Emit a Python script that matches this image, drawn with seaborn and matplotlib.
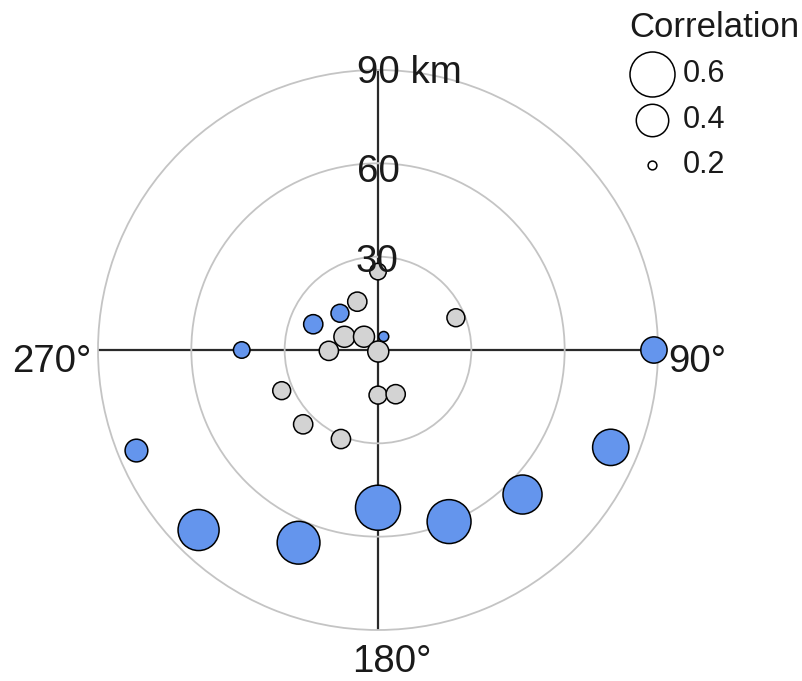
import numpy as np
import pandas as pd
import matplotlib
matplotlib.use("Agg")
import matplotlib.pyplot as plt
import seaborn as sns

# Station offsets: bearing (degrees clockwise from north), distance (km),
# correlation coefficient and whether the link is significant.
bearing_deg = [0, 336.8, 291.5, 313.5, 269, 170, 67.5, 247.1, 180, 158.2, 225.2, 202.6,
               314, 291.7, 23, 270, 247.4, 224.9, 202.4, 180, 157.5, 135, 112.7, 90]
distance_km = [25.2, 16.9, 11.6, 6.2, 15.8, 0.5, 27.1, 33.6, 14.5, 15.3, 33.9, 31.0,
               17.0, 22.4, 4.7, 43.8, 84.1, 81.7, 67.0, 50.7, 59.7, 65.7, 81.1, 88.7]
correlation = [0.24, 0.26, 0.275, 0.275, 0.26, 0.275, 0.25, 0.25, 0.25, 0.26, 0.26, 0.26,
               0.25, 0.26, 0.205, 0.24, 0.29, 0.53, 0.56, 0.657, 0.58, 0.497, 0.455, 0.326]
group = ["ns"] * 12 + ["sig"] * 12

ring_values = [30, 60, 90]
legend_values = [0.6, 0.4, 0.2]

palette = {"ns": "#d3d3d3", "sig": "#6495ed"}
size_range = (40, 1050)
size_norm = (0.2, 0.6)

df = pd.DataFrame({
    "theta": np.deg2rad(bearing_deg),
    "dist": distance_km,
    "corr": correlation,
    "group": group,
})

sns.set_style("white")
plt.rcParams["font.family"] = ["Liberation Sans", "DejaVu Sans"]
text_color = "#1a1a1a"
ring_color = "#c4c4c4"

fig = plt.figure(figsize=(8.03, 6.81), dpi=100)
ax = fig.add_axes([0.12204, 0.07489, 0.69738, 0.82232], projection="polar")
ax.set_theta_zero_location("N")
ax.set_theta_direction(-1)
ax.set_ylim(0, ring_values[-1])

sns.scatterplot(data=df, x="theta", y="dist", hue="group", palette=palette,
                size="corr", sizes=size_range, size_norm=size_norm,
                edgecolor="black", linewidth=1.1, legend=False,
                ax=ax, zorder=3, clip_on=False, alpha=1)

# grid: dark cross through the centre, light rings every 30 km
ax.set_xticks(np.deg2rad([0, 90, 180, 270]))
ax.set_yticks(ring_values[:-1])
ax.xaxis.grid(True, color="#2a2a2a", linewidth=1.6)
ax.yaxis.grid(True, color=ring_color, linewidth=1.3)
ax.set_xticklabels([])
ax.set_yticklabels([])
# outermost ring drawn by the polar spine
ax.spines["polar"].set_color(ring_color)
ax.spines["polar"].set_linewidth(1.3)
ax.set_xlabel("")
ax.set_ylabel("")

fs = 27.7
# ring labels along the north axis
ring_labels = [("90 km", 90, "left", -21, -12.7),
               ("60", 60, "center", 0, -18.4),
               ("30", 30, "center", -1, -15)]
for txt, r, ha, dx, dy in ring_labels:
    ax.annotate(txt, xy=(0, r), xytext=(dx, dy), textcoords="offset pixels",
                ha=ha, va="baseline", fontsize=fs, color=text_color,
                zorder=5, annotation_clip=False)

# bearing labels
bearing_labels = [("90°", 90, "left", 10, -21.7),
                  ("270°", 270, "right", -6, -21.7),
                  ("180°", 180, "left", -26, -41.7)]
for txt, deg, ha, dx, dy in bearing_labels:
    ax.annotate(txt, xy=(np.deg2rad(deg), 90), xytext=(dx, dy),
                textcoords="offset pixels", ha=ha, va="baseline",
                fontsize=fs, color=text_color, zorder=5,
                annotation_clip=False)

# size legend
def marker_area(v):
    lo, hi = size_norm
    return size_range[0] + (v - lo) / (hi - lo) * (size_range[1] - size_range[0])

handles = [ax.scatter([], [], s=marker_area(v), facecolor="white",
                      edgecolor="black", linewidth=1.1) for v in legend_values]
leg = ax.legend(handles, [f"{v:.1f}" for v in legend_values], title="Correlation",
                frameon=False, fontsize=22, title_fontsize=25,
                loc="upper left", bbox_to_anchor=(626 / 803, 1 - 8 / 681),
                bbox_transform=fig.transFigure, borderpad=0.1, borderaxespad=0,
                handlelength=1.5, handletextpad=0.25, labelspacing=0.5,
                scatterpoints=1)
leg._legend_box.align = "left"
for t in leg.get_texts():
    t.set_color(text_color)
leg.get_title().set_color(text_color)

fig.savefig("out.png", dpi=100)
